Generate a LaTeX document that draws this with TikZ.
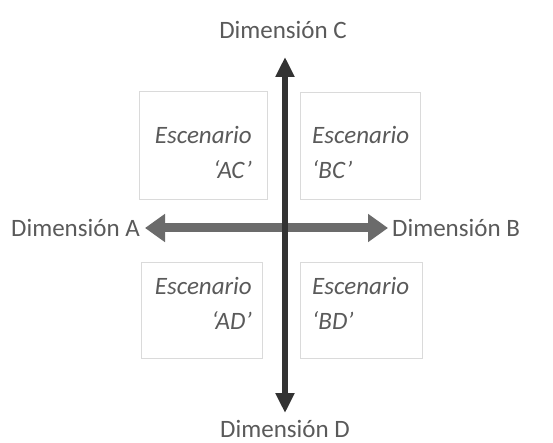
\documentclass[tikz,border=0pt]{standalone}
\usepackage{fontspec}
\setmainfont{Carlito}
\usepackage{tikz}
\usetikzlibrary{arrows.meta}
\definecolor{axisdark}{HTML}{333333}
\definecolor{axisgray}{HTML}{6B6B6B}
\definecolor{labelgray}{HTML}{5A5A5A}
\definecolor{boxline}{HTML}{DADADA}

\tikzset{
  dimlabel/.style={text=labelgray, font=\fontsize{25}{28}\selectfont, inner sep=0pt},
  scenario/.style={text=labelgray, font=\fontsize{25}{35}\selectfont\itshape, inner sep=0pt},
  quadbox/.style={draw=boxline, line width=1pt}
}

\begin{document}
\begin{tikzpicture}[x=1pt, y=-1pt]
    \useasboundingbox[fill=white] (0,0) rectangle (553,443);
    % quadrant boxes
    \draw[quadbox] (139,92) rectangle (267,200);
    \draw[quadbox] (300,93) rectangle (420,200);
    \draw[quadbox] (141,262) rectangle (262,358);
    \draw[quadbox] (300,262) rectangle (422,358);
    % scenario texts
    \node[scenario, align=right, anchor=east] (ac) at (252,152) {Escenario\\‘AC’};
    \node[scenario, align=left, anchor=west] (bc) at (312,152) {Escenario\\‘BC’};
    \node[scenario, align=right, anchor=east] (ad) at (252,303) {Escenario\\‘AD’};
    \node[scenario, align=left, anchor=west] (bd) at (312,303) {Escenario\\‘BD’};
    % dimension labels
    \node[dimlabel] (dimC) at (283,30) {Dimensión C};
    \node[dimlabel] (dimD) at (285,429) {Dimensión D};
    \node[dimlabel, anchor=east] (dimA) at (140,228) {Dimensión A};
    \node[dimlabel, anchor=west] (dimB) at (392,228) {Dimensión B};
    % axes
    \coordinate (tipA) at (145,228); \coordinate (tipB) at (388,228);
    \coordinate (tipC) at (285,57);  \coordinate (tipD) at (285,413);
    \draw[axisgray, line width=9pt, {Triangle[length=20pt,width=27pt]}-{Triangle[length=20pt,width=27pt]}] (tipA) -- (tipB);
    \draw[axisdark, line width=6pt, {Triangle[length=20pt,width=18pt]}-{Triangle[length=20pt,width=18pt]}] (tipD) -- (tipC);
\end{tikzpicture}
\end{document}
